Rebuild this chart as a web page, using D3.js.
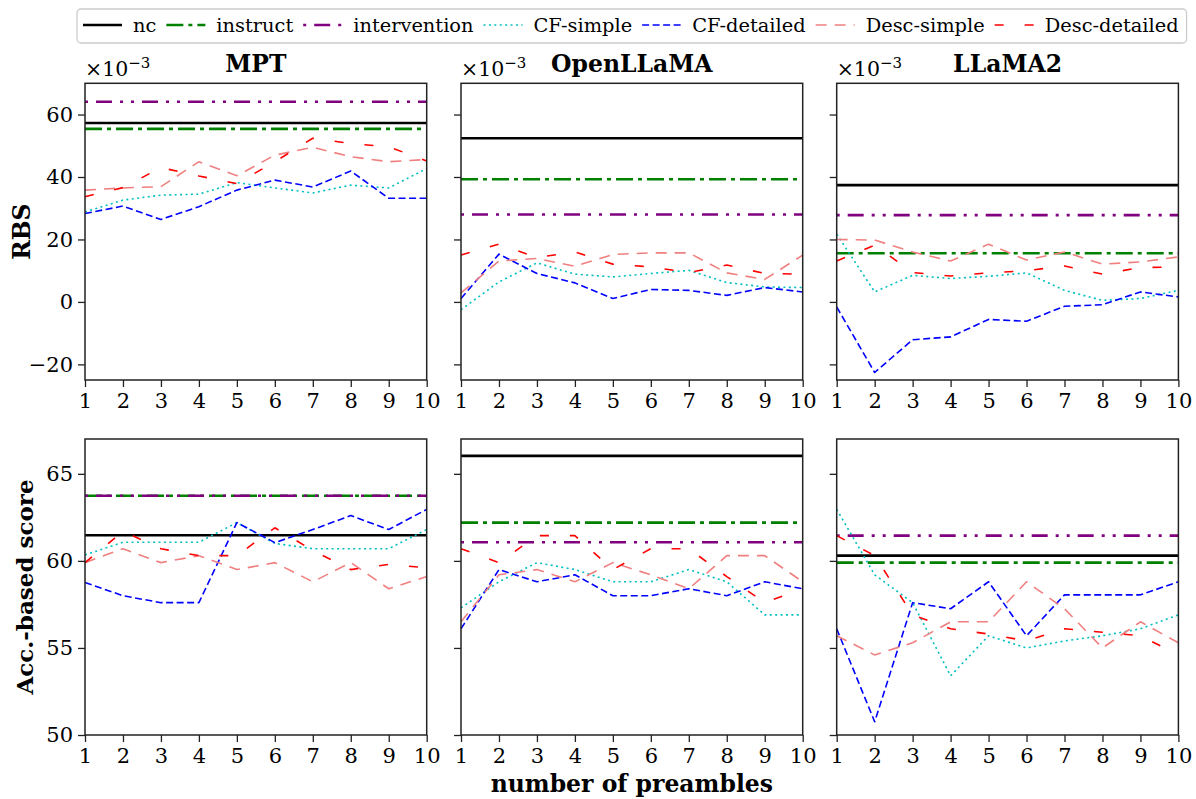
<!DOCTYPE html>
<html>
<head>
<meta charset="utf-8">
<script src="https://cdn.jsdelivr.net/npm/d3@7"></script>
<style>
  body { margin: 0; background: #fff; }
  svg { display: block; }
</style>
</head>
<body>
<svg id="chart" width="1196" height="799"></svg>
<script>
const xValues = [1, 2, 3, 4, 5, 6, 7, 8, 9, 10];
const models = ["MPT", "OpenLLaMA", "LLaMA2"];
const seriesNames = ["nc", "instruct", "intervention", "CF-simple", "CF-detailed", "Desc-simple", "Desc-detailed"];

// RBS, in units of 1e-3, one row per model (MPT, OpenLLaMA, LLaMA2)
const rbsNc = [57.3, 52.4, 37.4];
const rbsInstruct = [55.4, 39.3, 15.6];
const rbsIntervention = [64.1, 28.0, 27.8];
const rbsCfSimple = [
  [28.8, 32.6, 34.2, 34.5, 38.2, 36.5, 34.9, 37.4, 36.5, 42.7],
  [-2.5, 6.4, 12.5, 8.9, 8.0, 9.1, 10.1, 6.2, 4.8, 4.6],
  [21.7, 3.2, 8.5, 7.5, 8.2, 9.3, 3.7, 0.5, 1.1, 3.7]
];
const rbsCfDetailed = [
  [28.3, 30.7, 26.4, 30.5, 35.8, 39.0, 36.8, 41.9, 33.2, 33.2],
  [1.1, 15.3, 9.1, 6.1, 1.1, 4.0, 3.7, 2.1, 4.6, 3.2],
  [-1.6, -22.6, -12.1, -11.2, -5.6, -6.2, -1.4, -0.9, 3.2, 1.6]
];
const rbsDescSimple = [
  [35.8, 36.5, 36.9, 44.9, 40.4, 47.0, 49.5, 46.5, 44.9, 45.6],
  [2.9, 13.1, 13.9, 11.4, 15.2, 15.7, 15.7, 9.3, 7.2, 15.0],
  [20.0, 19.8, 16.0, 13.1, 18.5, 13.4, 16.0, 12.1, 12.8, 14.4]
];
const rbsDescDetailed = [
  [33.7, 36.6, 43.0, 40.3, 37.9, 44.9, 52.4, 50.7, 49.7, 45.1],
  [15.0, 18.5, 14.2, 16.0, 12.1, 11.2, 9.4, 11.8, 9.1, 8.9],
  [13.1, 18.2, 9.4, 8.3, 9.3, 10.0, 11.5, 8.9, 11.0, 11.2]
];

// Acc.-based score
const accNc = [61.47, 66.03, 60.3];
const accInstruct = [63.74, 62.2, 59.9];
const accIntervention = [63.74, 61.07, 61.45];
const accCfSimple = [
  [60.34, 61.07, 61.07, 61.07, 62.2, 61.0, 60.7, 60.7, 60.7, 61.8],
  [57.3, 58.8, 59.9, 59.5, 58.8, 58.8, 59.5, 58.8, 56.9, 56.9],
  [62.96, 59.2, 57.6, 53.4, 55.7, 55.0, 55.4, 55.7, 56.1, 56.9]
];
const accCfDetailed = [
  [58.76, 58.0, 57.6, 57.6, 62.2, 61.05, 61.8, 62.6, 61.8, 62.96],
  [56.1, 59.5, 58.8, 59.2, 58.0, 58.0, 58.4, 58.0, 58.8, 58.4],
  [56.1, 50.76, 57.6, 57.25, 58.8, 55.7, 58.05, 58.05, 58.05, 58.8]
];
const accDescSimple = [
  [59.9, 60.7, 59.9, 60.3, 59.5, 59.9, 58.8, 59.9, 58.4, 59.1],
  [56.5, 59.2, 59.5, 58.8, 59.9, 59.2, 58.4, 60.3, 60.3, 58.8],
  [55.7, 54.6, 55.3, 56.5, 56.5, 58.8, 57.25, 55.0, 56.5, 55.3]
];
const accDescDetailed = [
  [59.9, 61.7, 60.7, 60.3, 60.3, 61.9, 60.6, 59.5, 59.8, 59.6],
  [60.7, 59.9, 61.45, 61.45, 59.5, 60.7, 60.7, 59.1, 57.6, 58.4],
  [61.45, 60.3, 56.9, 56.1, 55.8, 55.4, 56.1, 55.9, 55.7, 54.6]
];

const rbsTicks = [-20, 0, 20, 40, 60];
const accTicks = [50, 55, 60, 65];

// line styles, same order as seriesNames
const seriesColors = ["#000000", "#008000", "#800080", "#00bfbf", "#0000ff", "#f08080", "#ff0000"];
const seriesDash = [null, "17,5,4,5", "3,8,16,8,3,8", "2,3.4", "7,3.5", "11,8", "9,21"];
const seriesWidth = [2.6, 2.6, 2.6, 1.6, 1.6, 1.6, 1.6];

const serif = '"DejaVu Serif", serif';
const svg = d3.select("#chart");

/** Layout
------------------------------------------------------------*/
const colLeft = [85, 461, 836.7];
const panelW = 341.7;
const rows = [
  { top: 83.3, bottom: 380, domain: [-25, 70], ticks: rbsTicks, label: "RBS", labelX: 30,
    flat: [rbsNc, rbsInstruct, rbsIntervention],
    curves: [rbsCfSimple, rbsCfDetailed, rbsDescSimple, rbsDescDetailed] },
  { top: 439, bottom: 735, domain: [50, 67], ticks: accTicks, label: "Acc.-based score", labelX: 33,
    flat: [accNc, accInstruct, accIntervention],
    curves: [accCfSimple, accCfDetailed, accDescSimple, accDescDetailed] }
];

rows.forEach(function (row, r) {
  const y = d3.scaleLinear().domain(row.domain).range([row.bottom, row.top]);

  models.forEach(function (model, m) {
    const x = d3.scaleLinear().domain([1, 10]).range([colLeft[m], colLeft[m] + panelW]);
    const g = svg.append("g");

    // the 7 series of this panel: 3 flat baselines, then 4 curves
    const series = row.flat.map(arr => xValues.map(() => arr[m]))
      .concat(row.curves.map(arr => arr[m]));

    const line = d3.line()
      .x((d, i) => x(xValues[i]))
      .y(d => y(d));

    g.selectAll("path.series")
      .data(series)
      .enter().append("path")
      .attr("class", "series")
      .attr("d", line)
      .attr("fill", "none")
      .attr("stroke", (d, i) => seriesColors[i])
      .attr("stroke-width", (d, i) => seriesWidth[i])
      .attr("stroke-dasharray", (d, i) => seriesDash[i])
      .attr("stroke-linejoin", "round");

    // axes
    const yAxis = d3.axisLeft(y).tickValues(row.ticks).tickSize(7).tickPadding(5)
      .tickFormat(m === 0 ? d3.format("d") : "");
    const xAxis = d3.axisBottom(x).tickValues(xValues).tickSize(7).tickPadding(6)
      .tickFormat(d3.format("d"));

    const ya = g.append("g").attr("transform", `translate(${colLeft[m]},0)`).call(yAxis);
    const xa = g.append("g").attr("transform", `translate(0,${row.bottom})`).call(xAxis);
    [ya, xa].forEach(function (a) {
      a.attr("font-family", null);
      a.select(".domain").remove();
      a.selectAll("line").attr("stroke", "#222").attr("stroke-width", 1.3);
      a.selectAll("text")
        .style("font-family", serif)
        .style("font-size", "21px")
        .attr("fill", "#000");
    });

    // frame
    g.append("rect")
      .attr("x", colLeft[m]).attr("y", row.top)
      .attr("width", panelW).attr("height", row.bottom - row.top)
      .attr("fill", "none").attr("stroke", "#222").attr("stroke-width", 1.5);

    if (r === 0) {
      g.append("text")
        .attr("x", colLeft[m] + panelW / 2).attr("y", 72)
        .attr("text-anchor", "middle")
        .style("font-family", serif).style("font-size", "23.5px").style("font-weight", "bold")
        .text(model);

      const off = g.append("text")
        .attr("x", colLeft[m]).attr("y", 76)
        .style("font-family", serif).style("font-size", "20.5px");
      off.append("tspan").text("×10");
      off.append("tspan").attr("dy", -8).style("font-size", "15px").text("−3");
    }
  });

  svg.append("text")
    .attr("transform", `translate(${row.labelX},${(row.top + row.bottom) / 2}) rotate(-90)`)
    .attr("text-anchor", "middle")
    .style("font-family", serif).style("font-size", r === 0 ? "23.5px" : "23px").style("font-weight", "bold")
    .text(row.label);
});

svg.append("text")
  .attr("x", colLeft[1] + panelW / 2).attr("y", 792)
  .attr("text-anchor", "middle")
  .style("font-family", serif).style("font-size", "23.5px").style("font-weight", "bold")
  .text("number of preambles");

/** Legend
------------------------------------------------------------*/
const legend = svg.append("g");
const legendBox = legend.append("rect")
  .attr("y", 9).attr("height", 34).attr("rx", 4)
  .attr("fill", "#fff").attr("fill-opacity", 0.8)
  .attr("stroke", "#cccccc").attr("stroke-width", 1.3);

const handleLen = 39, textGap = 11, itemGap = 10;
let lx = 83;
seriesNames.forEach(function (name, i) {
  legend.append("line")
    .attr("x1", lx).attr("x2", lx + handleLen)
    .attr("y1", 25).attr("y2", 25)
    .attr("stroke", seriesColors[i])
    .attr("stroke-width", seriesWidth[i])
    .attr("stroke-dasharray", seriesDash[i]);
  const t = legend.append("text")
    .attr("x", lx + handleLen + textGap).attr("y", 31.5)
    .style("font-family", serif).style("font-size", "19.4px")
    .text(name);
  lx += handleLen + textGap + t.node().getComputedTextLength() + itemGap;
});
legendBox.attr("x", 77).attr("width", lx - itemGap + 8 - 77);
</script>
</body>
</html>
